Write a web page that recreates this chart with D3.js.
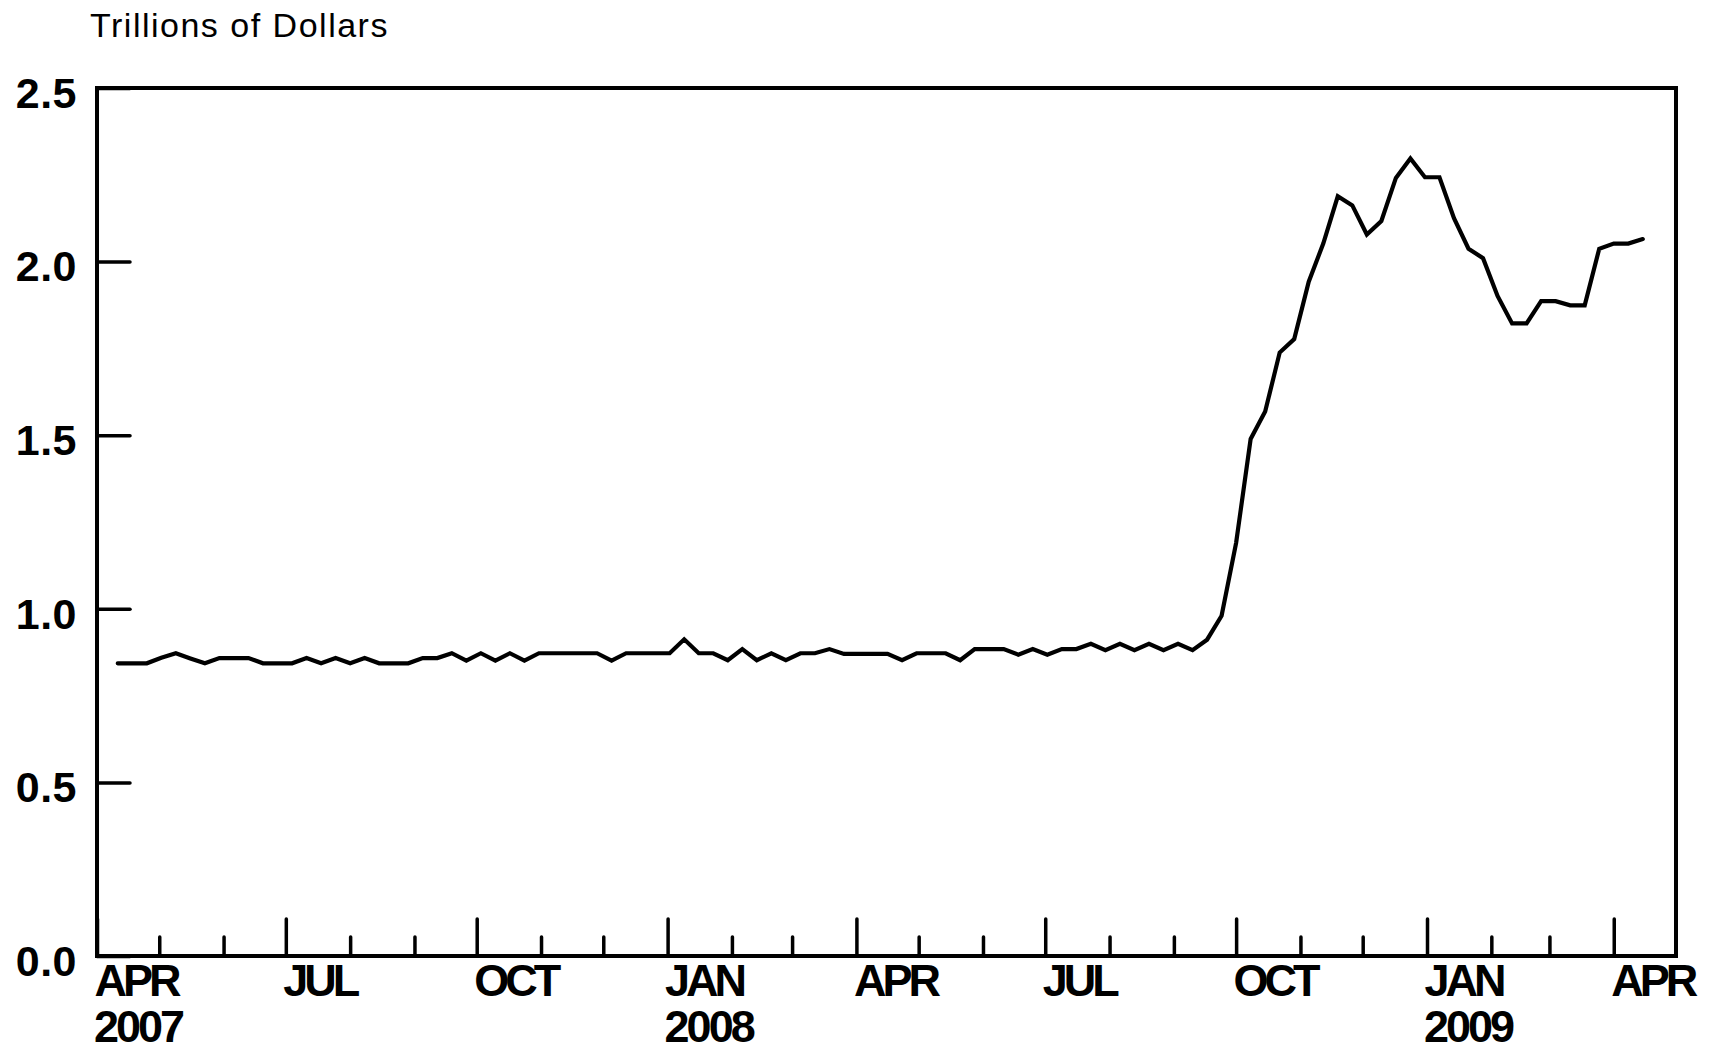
<!DOCTYPE html>
<html><head><meta charset="utf-8">
<script src="https://cdn.jsdelivr.net/npm/d3@7"></script>
<style>html,body{margin:0;padding:0;background:#fff}svg{display:block}</style>
</head><body>
<script>
// ---- data ----
const unitLabel = "Trillions of Dollars";
const firstWeek = "2007-04-11";   // weekly (Wednesday) observations
const lastWeek  = "2009-04-15";
const assets = [
  0.843,0.843,0.843,0.859,0.872,0.857,0.843,0.858,0.858,0.858,
  0.843,0.843,0.843,0.858,0.843,0.858,0.843,0.858,0.843,0.843,
  0.843,0.858,0.858,0.872,0.851,0.872,0.851,0.872,0.851,0.872,
  0.872,0.872,0.872,0.872,0.851,0.872,0.872,0.872,0.872,0.912,
  0.872,0.872,0.852,0.884,0.852,0.872,0.852,0.872,0.872,0.884,
  0.870,0.870,0.870,0.870,0.852,0.872,0.872,0.872,0.852,0.884,
  0.884,0.884,0.868,0.884,0.868,0.884,0.884,0.899,0.881,0.899,
  0.881,0.899,0.881,0.899,0.881,0.911,0.980,1.190,1.489,1.568,
  1.738,1.777,1.942,2.052,2.188,2.162,2.078,2.117,2.241,2.297,
  2.243,2.243,2.125,2.037,2.010,1.901,1.822,1.822,1.886,1.886,
  1.874,1.874,2.037,2.052,2.052,2.065
];
const xDomain = ["2007-04-01", "2009-05-01"];
const yTickValues = [0, 0.5, 1.0, 1.5, 2.0, 2.5];
const yTickLabels = ["0.0", "0.5", "1.0", "1.5", "2.0", "2.5"];
const yearLabelDates = ["2007-04-01", "2008-01-01", "2009-01-01"];
const yearLabels = ["2007", "2008", "2009"];

(function () {
// ---- layout ----
const W = 1709, H = 1052;
const mLeft = 97, mRight = 1676, mTop = 88, mBottom = 956;
const parse = d3.timeParse("%Y-%m-%d");
const dates = d3.timeWednesday.range(parse(firstWeek), d3.timeDay.offset(parse(lastWeek), 1));
const series = dates.map((d, i) => ({date: d, value: assets[i]}));

const svg = d3.select("body").append("svg").attr("width", W).attr("height", H);
const x = d3.scaleTime().domain(xDomain.map(parse)).range([mLeft, mRight]);
const y = d3.scaleLinear().domain([0, 2.5]).range([mBottom, mTop]);

const FONT = "'Liberation Sans', Arial, Helvetica, sans-serif";

// title
svg.append("text").attr("x", 90).attr("y", 37)
  .attr("font-family", FONT).attr("font-size", 34).attr("letter-spacing", 1.5)
  .attr("fill", "#000").text(unitLabel);

// y axis
const yAxis = d3.axisLeft(y).tickValues(yTickValues)
  .tickFormat((d, i) => yTickLabels[i]).tickSize(-33).tickPadding(20);
const gy = svg.append("g").attr("transform", `translate(${mLeft},0)`).call(yAxis);
gy.select(".domain").remove();
gy.selectAll(".tick line").attr("stroke", "#000").attr("stroke-width", 3.5).attr("stroke-linecap", "round");
gy.selectAll(".tick text").attr("font-family", FONT).attr("font-size", 43)
  .attr("font-weight", "bold").attr("fill", "#000").attr("dy", "0.45em").attr("letter-spacing", 0.5);

// x axis: minor (monthly) ticks
const months = d3.timeMonth.range(parse("2007-05-01"), parse("2009-05-01"));
const isQuarter = d => d.getMonth() % 3 === 0;
const xMinor = d3.axisBottom(x).tickValues(months.filter(d => !isQuarter(d)))
  .tickSize(-19).tickFormat("");
const gxm = svg.append("g").attr("transform", `translate(0,${mBottom})`).call(xMinor);
gxm.select(".domain").remove();
gxm.selectAll(".tick line").attr("stroke", "#000").attr("stroke-width", 3.5).attr("stroke-linecap", "round");

// x axis: major (quarterly) ticks + labels
const quarters = d3.timeMonth.range(parse("2007-04-01"), parse("2009-05-01")).filter(isQuarter);
const xMajor = d3.axisBottom(x).tickValues(quarters)
  .tickSize(-37).tickFormat(d => d3.timeFormat("%b")(d).toUpperCase());
const gx = svg.append("g").attr("transform", `translate(0,${mBottom})`).call(xMajor);
gx.select(".domain").remove();
gx.selectAll(".tick line").attr("stroke", "#000").attr("stroke-width", 3.5).attr("stroke-linecap", "round");
gx.selectAll(".tick text").attr("font-family", FONT).attr("font-size", 45).attr("font-weight", "bold")
  .attr("fill", "#000").attr("text-anchor", "start").attr("x", -3).attr("y", 40).attr("dy", null)
  .attr("letter-spacing", -4);

// year labels
svg.append("g").selectAll("text").data(yearLabelDates).join("text")
  .attr("x", d => x(parse(d)) - 3).attr("y", 1042)
  .attr("font-family", FONT).attr("font-size", 45).attr("font-weight", "bold")
  .attr("letter-spacing", -3).attr("fill", "#000")
  .text((d, i) => yearLabels[i]);

// frame
svg.append("rect").attr("x", mLeft).attr("y", mTop).attr("width", mRight - mLeft).attr("height", mBottom - mTop)
  .attr("fill", "none").attr("stroke", "#000").attr("stroke-width", 4);

// line
const line = d3.line().x(d => x(d.date)).y(d => y(d.value));
svg.append("path").datum(series).attr("d", line)
  .attr("fill", "none").attr("stroke", "#000").attr("stroke-width", 4.2)
  .attr("stroke-linejoin", "miter").attr("stroke-linecap", "round");
})();
</script>
</body></html>
